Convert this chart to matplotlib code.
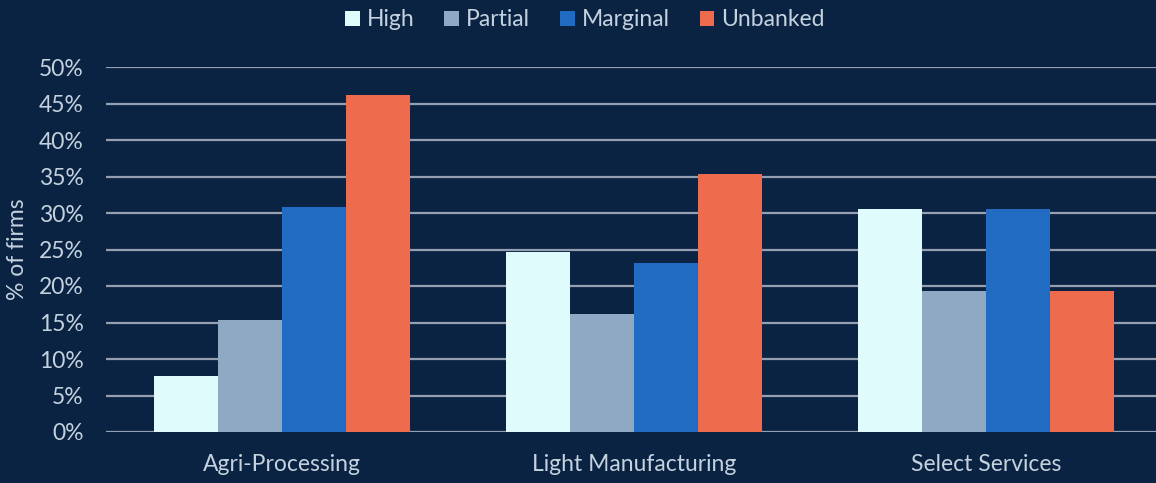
import numpy as np
import matplotlib.pyplot as plt
import matplotlib.ticker as mtick

categories = ['Agri-Processing', 'Light Manufacturing', 'Select Services']
series = ['High', 'Partial', 'Marginal', 'Unbanked']
high = [7.7, 24.6, 30.5]
partial = [15.4, 16.2, 19.3]
marginal = [30.8, 23.2, 30.5]
unbanked = [46.2, 35.4, 19.3]
colors = ['#E0FBFC', '#8FA9C4', '#216BC3', '#EE6C4D']

bg = '#0B2343'
txt = '#C3D2DE'

fig = plt.figure(figsize=(11.56, 4.83), dpi=100)
fig.set_facecolor(bg)
ax = fig.add_axes([106/1156, 51/483, 1056/1156, 365/483])
ax.set_facecolor(bg)

x = np.arange(len(categories))
w = 64/352
for i, (name, vals) in enumerate(zip(series, [high, partial, marginal, unbanked])):
    ax.bar(x + (i - 1.5)*w, vals, width=w, color=colors[i], label=name, zorder=3)

ax.set_xlim(-0.5, 2.5)
ax.set_ylim(0, 50)
ax.set_yticks(np.arange(0, 51, 5))
ax.yaxis.set_major_formatter(mtick.FuncFormatter(lambda v, p: f"{int(v)}%"))
ax.grid(axis='y', color='#949FAF', linewidth=1.6, zorder=1)
ax.set_axisbelow(True)
for s in ax.spines.values():
    s.set_visible(False)
ax.tick_params(axis='both', length=0, colors=txt, labelsize=16.5)
ax.tick_params(axis='y', pad=16)
ax.tick_params(axis='x', pad=16)
ax.set_xticks(x)
ax.set_xticklabels(categories)
for lab in ax.get_xticklabels() + ax.get_yticklabels():
    lab.set_fontfamily('Lato')
ax.set_ylabel('% of firms', color=txt, fontsize=16.5, fontfamily='Lato')
ax.yaxis.set_label_coords(-0.074, 0.5)

leg = fig.legend(loc='center', bbox_to_anchor=(585/1156, 1 - 20/483), ncol=4, frameon=False,
                 prop={'family': 'Lato', 'size': 16.5}, handlelength=0.65, handleheight=0.65,
                 handletextpad=0.3, columnspacing=1.3)
for t in leg.get_texts():
    t.set_color(txt)

fig.savefig('out.png', dpi=100, facecolor=bg)
